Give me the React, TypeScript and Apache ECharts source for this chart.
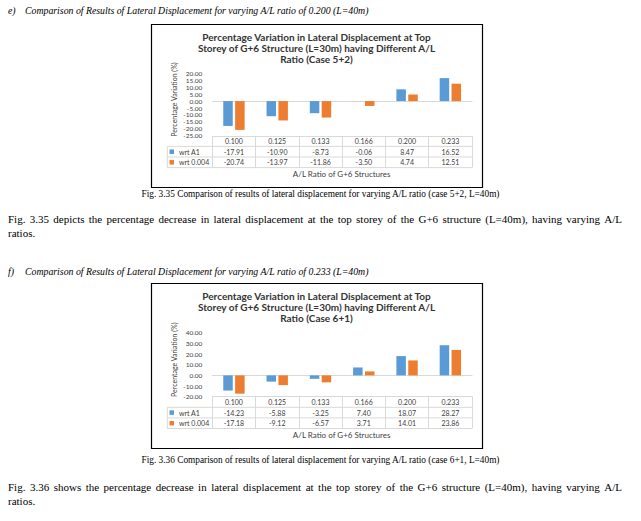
import React, { useEffect, useRef } from "react";
import * as echarts from "echarts";

// ---------- data ----------
const categories = ["0.100", "0.125", "0.133", "0.166", "0.200", "0.233"];
const seriesNames = ["wrt A1", "wrt 0.004"];
const case52A1 = [-17.91, -10.9, -8.73, -0.06, 8.47, 16.52];
const case52B = [-20.74, -13.97, -11.86, -3.5, 4.74, 12.51];
const case61A1 = [-14.23, -5.88, -3.25, 7.4, 18.07, 28.27];
const case61B = [-17.18, -9.12, -6.57, 3.71, 14.01, 23.86];
const yAxis52 = { min: -25, max: 20, interval: 5 };
const yAxis61 = { min: -20, max: 40, interval: 10 };

const title52 =
  "Percentage Variation in Lateral Displacement at Top\nStorey of G+6 Structure (L=30m) having Different A/L\nRatio (Case 5+2)";
const title61 =
  "Percentage Variation in Lateral Displacement at Top\nStorey of G+6 Structure (L=30m) having Different A/L\nRatio (Case 6+1)";
const yName = "Percentage Variation (%)";
const xName = "A/L Ratio of G+6 Structures";

const headE = "Comparison of Results of Lateral Displacement for varying A/L ratio of 0.200 (L=40m)";
const headF = "Comparison of Results of Lateral Displacement for varying A/L ratio of 0.233 (L=40m)";
const cap35 = "Fig. 3.35 Comparison of results of lateral displacement for varying A/L ratio (case 5+2, L=40m)";
const cap36 = "Fig. 3.36 Comparison of results of lateral displacement for varying A/L ratio (case 6+1, L=40m)";
const para35 =
  "Fig. 3.35 depicts the percentage decrease in lateral displacement at the top storey of the G+6 structure (L=40m), having varying A/L";
const para36 =
  "Fig. 3.36 shows the percentage decrease in lateral displacement at the top storey of the G+6 structure (L=40m), having varying A/L";
const paraEnd = "ratios.";

const BLUE = "#5b9bd5";
const ORANGE = "#ed7d31";
const GRIDC = "#d9d9d9";
const LABC = "#404040";
const CF = "Lato";
const SERIF = "Liberation Serif";

export default function App() {
  const ref = useRef<HTMLDivElement>(null);

  useEffect(() => {
    if (!ref.current) return;
    const chart = echarts.init(ref.current, null, { renderer: "svg" });

    const plotL = 212.3;
    const plotR = 472;
    const tblL = 167.3;
    const rowH = 10.6;
    const grids = [
      { top: 73.3, height: 62.5 },
      { top: 332.7, height: 64 },
    ];
    const tableTops = grids.map((g) => g.top + g.height);

    const paraSize = 11;
    const capSize = 9.3;
    const headSize = 9.8;
    const measure = (t: string, font: string) => {
      const c = document.createElement("canvas").getContext("2d")!;
      c.font = font;
      return c.measureText(t).width;
    };
    const justified = (text: string, x: number, y: number, w: number) => {
      const font = `${paraSize}px "${SERIF}"`;
      const words = text.split(" ");
      const widths = words.map((wd) => measure(wd, font));
      const total = widths.reduce((a, b) => a + b, 0);
      const gap = (w - total) / (words.length - 1);
      let cx = x;
      return words.map((wd, i) => {
        const el = {
          type: "text",
          x: cx,
          y,
          style: { text: wd, font, fill: "#000", textVerticalAlign: "middle" },
        };
        cx += widths[i] + gap;
        return el;
      });
    };
    const docText = (text: string, x: number, y: number, align: string, size: number, italic = false) => ({
      type: "text",
      x,
      y,
      style: {
        text,
        font: `${italic ? "italic " : ""}${size}px "${SERIF}"`,
        fill: "#000",
        textAlign: align,
        textVerticalAlign: "middle",
      },
    });

    const boxes = [
      { x: 151, y: 24, w: 331, h: 163 },
      { x: 151, y: 283, w: 331, h: 165 },
    ];
    const titles = [title52, title61];

    const chartGraphics: any[] = [];
    boxes.forEach((b, i) => {
      chartGraphics.push({
        type: "rect",
        shape: { x: b.x + 0.5, y: b.y + 0.5, width: b.w, height: b.h },
        style: { fill: "none", stroke: "#000", lineWidth: 1.2 },
        z: 10,
      });
      chartGraphics.push({
        type: "text",
        x: 316.5,
        y: b.y + 8,
        style: {
          text: titles[i],
          font: `bold 10px ${CF}`,
          fill: "#333",
          textAlign: "center",
          lineHeight: 10.8,
        },
      });
      const T = tableTops[i];
      for (let k = 1; k <= 3; k++) {
        chartGraphics.push({
          type: "line",
          shape: { x1: tblL, y1: T + k * rowH, x2: plotR, y2: T + k * rowH },
          style: { stroke: GRIDC, lineWidth: 1 },
        });
      }
      chartGraphics.push({
        type: "line",
        shape: { x1: tblL, y1: T + rowH, x2: tblL, y2: T + 3 * rowH },
        style: { stroke: GRIDC, lineWidth: 1 },
      });
      chartGraphics.push({
        type: "text",
        x: 341.7,
        y: T + 3 * rowH + 6,
        style: {
          text: xName,
          font: `8px ${CF}`,
          fill: LABC,
          textAlign: "center",
          textVerticalAlign: "middle",
        },
      });
    });

    const docGraphics: any[] = [
      docText("e)", 8, 10, "left", headSize, true),
      docText(headE, 25, 10, "left", headSize, true),
      docText(cap35, 320.5, 194, "center", capSize),
      ...justified(para35, 8, 219, 614),
      docText(paraEnd, 8, 233, "left", paraSize),
      docText("f)", 8, 271, "left", headSize, true),
      docText(headF, 25, 271, "left", headSize, true),
      docText(cap36, 320.5, 460, "center", capSize),
      ...justified(para36, 8, 487, 614),
      docText(paraEnd, 8, 501, "left", paraSize),
    ];

    const dataSets = [
      [case52A1, case52B],
      [case61A1, case61B],
    ];
    const yDefs = [yAxis52, yAxis61];

    const xAxes: any[] = [];
    const yAxes: any[] = [];
    const series: any[] = [];
    const legends: any[] = [];
    grids.forEach((g, i) => {
      const [a, b] = dataSets[i];
      xAxes.push({
        type: "category",
        gridIndex: i,
        data: categories,
        axisLine: { onZero: true, lineStyle: { color: GRIDC, width: 1 } },
        axisTick: { show: false },
        axisLabel: { show: false },
      });
      xAxes.push({
        type: "category",
        gridIndex: i,
        data: categories,
        position: "bottom",
        axisLine: { onZero: false, show: true, lineStyle: { color: GRIDC, width: 1 } },
        axisTick: { show: true, length: 3 * rowH, lineStyle: { color: GRIDC, width: 1 } },
        axisLabel: {
          interval: 0,
          margin: 0,
          color: LABC,
          fontFamily: CF,
          fontSize: 7,
          lineHeight: rowH,
          formatter: (v: string, idx: number) => `${v}\n${a[idx].toFixed(2)}\n${b[idx].toFixed(2)}`,
        },
      });
      yAxes.push({
        type: "value",
        gridIndex: i,
        min: yDefs[i].min,
        max: yDefs[i].max,
        interval: yDefs[i].interval,
        axisLine: { show: false },
        axisTick: { show: false },
        splitLine: { show: false },
        axisLabel: {
          color: LABC,
          fontFamily: CF,
          fontSize: 6.5,
          margin: 10,
          formatter: (v: number) => v.toFixed(2),
        },
        name: yName,
        nameLocation: "middle",
        nameRotate: 90,
        nameGap: 35,
        nameTextStyle: { color: LABC, fontFamily: CF, fontSize: 7, padding: [0, 0, 0, 10] },
      });
      [a, b].forEach((vals, s) => {
        series.push({
          type: "bar",
          name: seriesNames[s],
          xAxisIndex: i * 2,
          yAxisIndex: i,
          data: vals,
          barWidth: 9.5,
          barGap: "25%",
          itemStyle: { color: s === 0 ? BLUE : ORANGE },
        });
      });
      legends.push({
        orient: "vertical",
        left: 169.5,
        top: tableTops[i] + rowH,
        padding: 0,
        itemGap: 0,
        itemWidth: 4.5,
        itemHeight: 4.5,
        icon: "rect",
        selectedMode: false,
        data: seriesNames,
        textStyle: { color: LABC, fontFamily: CF, fontSize: 7, lineHeight: rowH },
      });
    });

    chart.setOption({
      animation: false,
      backgroundColor: "#fff",
      grid: grids.map((g) => ({ left: plotL, width: plotR - plotL, top: g.top, height: g.height })),
      xAxis: xAxes,
      yAxis: yAxes,
      series,
      legend: legends,
      graphic: [...chartGraphics, ...docGraphics],
    });

    return () => chart.dispose();
  }, []);

  return (
    <div
      ref={ref}
      style={{ position: "absolute", left: 0, top: 0, width: 641, height: 521 }}
    />
  );
}
